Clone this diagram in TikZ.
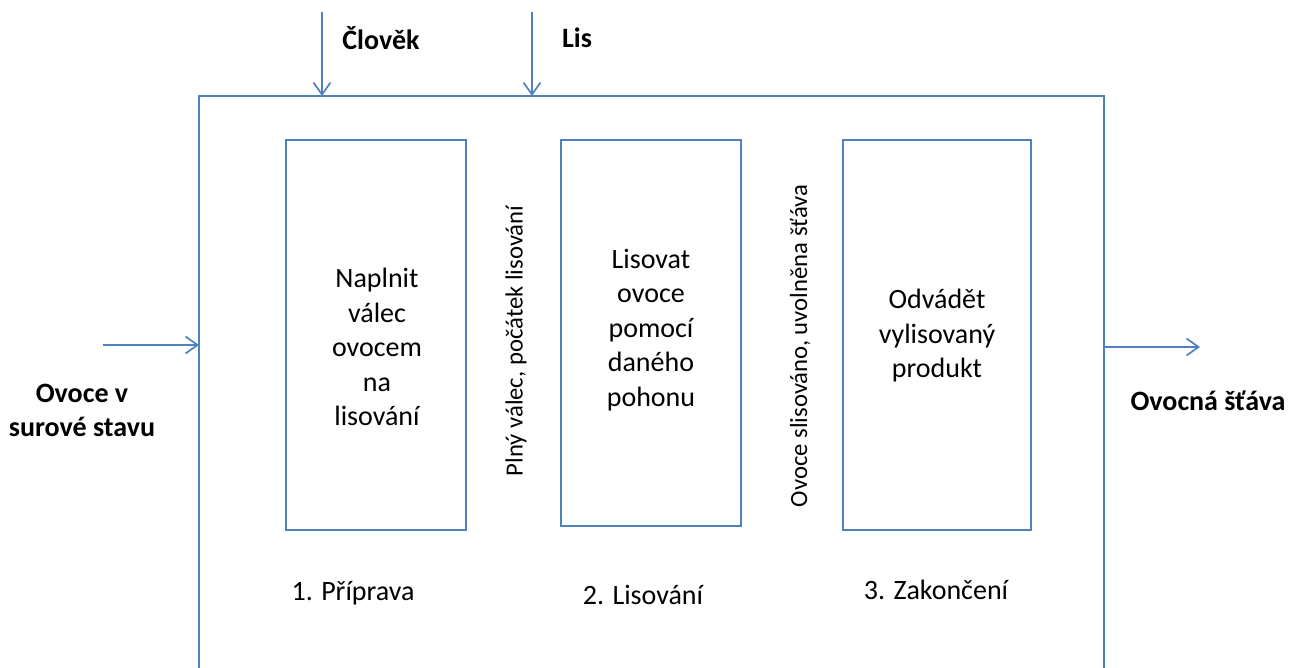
\documentclass[tikz,border=0pt]{standalone}
\usepackage{fontspec}
\setmainfont{Carlito}
\usetikzlibrary{arrows.meta}
\definecolor{lineblue}{HTML}{4F81BD}
\begin{document}
\begin{tikzpicture}[x=1pt,y=-1pt,
  every node/.style={inner sep=0pt,outer sep=0pt},
  ln/.style={draw=lineblue,line width=1.7pt},
  arr/.style={ln,-{Straight Barb[length=12pt,width=17pt,line width=1.7pt]}},
  lbl/.style={font=\fontsize{28}{34.5}\selectfont,align=center},
  rlbl/.style={font=\fontsize{24.7}{30}\selectfont,align=center,rotate=90},
  blbl/.style={font=\fontsize{28}{34}\selectfont\bfseries,align=center}]
\useasboundingbox (0,0) rectangle (1292,668);
\begin{scope}
\clip (0,0) rectangle (1292,668);
\draw[ln] (199,720) -- (199,96) -- (1104,96) -- (1104,720);
\end{scope}
\coordinate (outerTopA) at (322,96);
\coordinate (outerTopB) at (532,96);
\coordinate (outerL) at (199,345);
\coordinate (outerR) at (1104,347);
\coordinate (topA) at (322,12);
\coordinate (topB) at (532,12);
\coordinate (inL) at (103,345);
\coordinate (outR) at (1200,347);
\draw[arr] (topA) -- (outerTopA);
\draw[arr] (topB) -- (outerTopB);
\draw[arr] (inL) -- (outerL);
\draw[arr] (outerR) -- (outR);
\node[blbl] (clovek) at (381,38) {Člověk};
\node[blbl] (lis) at (577,38) {Lis};
\node[blbl] (ovoce) at (82,410) {Ovoce v\\surové stavu};
\node[blbl] (stava) at (1208,401) {Ovocná šťáva};
\draw[ln] (286,140) rectangle (466,530);
\draw[ln] (561,140) rectangle (741,526);
\draw[ln] (843,140) rectangle (1031,530);
\node[lbl] (t1) at (377,347) {Naplnit\\válec\\ovocem\\na\\lisování};
\node[lbl] (t2) at (651,330) {Lisovat\\ovoce\\pomocí\\daného\\pohonu};
\node[lbl] (t3) at (937,336) {Odvádět\\vylisovaný\\produkt};
\node[rlbl] (r1) at (516,341) {Plný válec, počátek lisování};
\node[rlbl] (r2) at (800,346) {Ovoce slisováno, uvolněna šťáva};
\node[lbl] (p1) at (353,593) {1. Příprava};
\node[lbl] (p2) at (643,595) {2. Lisování};
\node[lbl] (p3) at (936,590) {3. Zakončení};
\end{tikzpicture}
\end{document}
